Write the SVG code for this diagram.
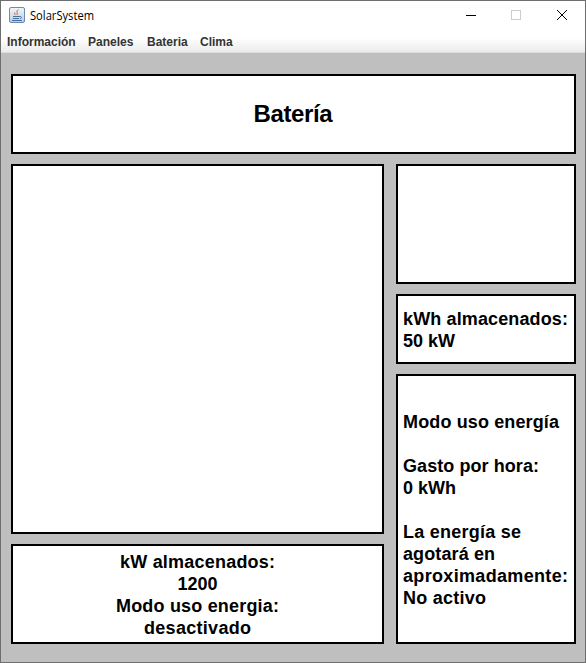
<svg xmlns="http://www.w3.org/2000/svg" width="586" height="663" viewBox="0 0 586 663">
<style>
.p{fill:#fff;stroke:#000;stroke-width:2}
.t{font:bold 18px "Liberation Sans",Arial,sans-serif;fill:#000}
.c{text-anchor:middle}
.m{font:bold 12px "Liberation Sans",Arial,sans-serif;fill:#333}
</style>
<defs>
<linearGradient id="mg" x1="0" y1="0" x2="0" y2="1">
<stop offset="0" stop-color="#fff"/><stop offset="0.3" stop-color="#fff"/><stop offset="1" stop-color="#ebebeb"/>
</linearGradient>
<linearGradient id="ig" x1="0" y1="0" x2="0" y2="1">
<stop offset="0" stop-color="#f2f5f9"/><stop offset="1" stop-color="#b9cde2"/>
</linearGradient>
</defs>
<g id="window">
<rect x="0" y="0" width="586" height="663" fill="#6e6e6e"/>
<rect x="1" y="1" width="584" height="661" fill="#bfbfbf"/>
<rect x="1" y="1" width="584" height="31" fill="#fff"/>
<rect x="1" y="32" width="584" height="20" fill="url(#mg)"/>
<rect x="1" y="52" width="584" height="1" fill="#dcdcdc"/>
</g>
<g id="titlebar">
<rect x="9.500" y="7.500" width="15" height="15" rx="1.500" fill="url(#ig)" stroke="#6a8cb0"/>
<path d="M18.500 9.500c-3 2-.5 3-1.500 5.500M15 12.500c-1 1 0 2 .5 2.500" fill="none" stroke="#c8612a" stroke-width="1"/>
<path d="M13 16.500h7c2 0 2 2 0 2M13 18.500h6M12 20.500h10" fill="none" stroke="#4a6f98" stroke-width="1"/>
<text x="30" y="20" font-family="'Open Sans','Noto Sans',sans-serif" font-size="12" fill="#000" textLength="64" lengthAdjust="spacingAndGlyphs">SolarSystem</text>
<rect x="466" y="15" width="10" height="1" fill="#000"/>
<rect x="511.500" y="10.500" width="9" height="9" fill="none" stroke="#ccc"/>
<path d="M557 10l10 10M567 10l-10 10" stroke="#000" stroke-width="1" fill="none"/>
</g>
<g id="menu">
<text class="m" x="7" y="46">Información</text>
<text class="m" x="88" y="46">Paneles</text>
<text class="m" x="147" y="46">Bateria</text>
<text class="m" x="200" y="46">Clima</text>
</g>
<g id="header"><rect class="p" x="12" y="75" width="563" height="78"/>
<text x="293" y="122" text-anchor="middle" font-family="'Liberation Sans',Arial,sans-serif" font-weight="bold" font-size="24" textLength="79">Batería</text></g>
<g id="main"><rect class="p" x="12" y="165" width="371" height="368"/></g>
<g id="stats"><rect class="p" x="12" y="545" width="371" height="98"/>
<text class="t c" x="197.500" y="568" textLength="155">kW almacenados:</text>
<text class="t c" x="197.500" y="590" textLength="40">1200</text>
<text class="t c" x="197.500" y="612" textLength="163">Modo uso energia:</text>
<text class="t c" x="197.500" y="634" textLength="107">desactivado</text></g>
<g id="side-top"><rect class="p" x="397" y="165" width="178" height="118"/></g>
<g id="side-kwh"><rect class="p" x="397" y="295" width="178" height="68"/>
<text class="t" x="403" y="325" textLength="165">kWh almacenados:</text>
<text class="t" x="403" y="347">50 kW</text></g>
<g id="side-mode"><rect class="p" x="397" y="375" width="178" height="268"/>
<text class="t" x="403" y="428" textLength="156">Modo uso energía</text>
<text class="t" x="403" y="472" textLength="136">Gasto por hora:</text>
<text class="t" x="403" y="494">0 kWh</text>
<text class="t" x="403" y="538" textLength="118">La energía se</text>
<text class="t" x="403" y="560" textLength="92">agotará en</text>
<text class="t" x="403" y="582" textLength="165">aproximadamente:</text>
<text class="t" x="403" y="604" textLength="83">No activo</text></g>
<g id="connectors"/>
</svg>
